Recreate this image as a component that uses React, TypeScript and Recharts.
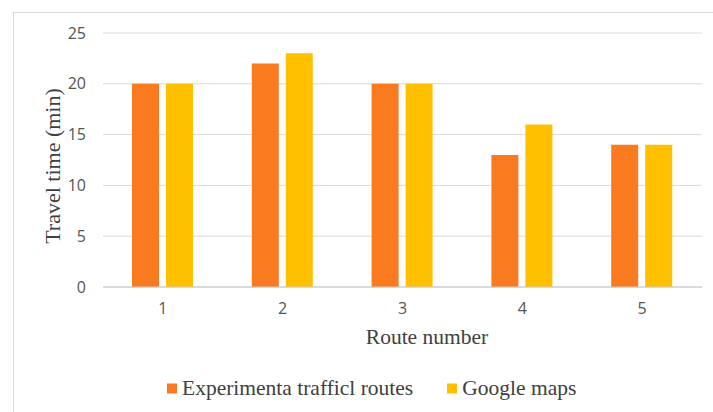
import { BarChart, Bar, XAxis, YAxis, CartesianGrid } from 'recharts';

const routes = ['1', '2', '3', '4', '5'];
const experimentalTimes = [20, 22, 20, 13, 14];
const googleTimes = [20, 23, 20, 16, 14];
const yTicks = [0, 5, 10, 15, 20, 25];

const SERIES = [
  { key: 'experimental', name: 'Experimenta trafficl routes', color: '#F97A1F' },
  { key: 'google', name: 'Google maps', color: '#FFC000' },
];

const data = routes.map((route, i) => ({
  route,
  experimental: experimentalTimes[i],
  google: googleTimes[i],
}));

const serif = '"Liberation Serif", "Times New Roman", serif';
const tickFont = { fill: '#555', fontSize: 16, fontFamily: '"Open Sans", "Liberation Sans", sans-serif' };

export default function App() {
  return (
    <div style={{ position: 'relative', width: 713, height: 412, background: '#fff', overflow: 'hidden' }}>
      <style>{'body { margin: 0; }'}</style>
      {/* frame */}
      <div style={{ position: 'absolute', left: 13, top: 12, width: 720, height: 420, borderTop: '1.5px solid #d9d9d9', borderLeft: '1.5px solid #d9d9d9' }} />

      <BarChart
        width={713}
        height={412}
        data={data}
        margin={{ top: 33, right: 11, bottom: 95, left: 0 }}
        barGap={7}
        barSize={27}
        style={{ position: 'absolute', left: 0, top: 0 }}
      >
        <CartesianGrid vertical={false} stroke="#d9d9d9" />
        <XAxis
          dataKey="route"
          height={30}
          tick={tickFont}
          tickLine={false}
          tickSize={0}
          tickMargin={16}
          axisLine={{ stroke: '#c8c8c8' }}
        />
        <YAxis
          domain={[0, 25]}
          ticks={yTicks}
          width={103}
          tick={tickFont}
          tickLine={false}
          tickSize={0}
          tickMargin={17}
          axisLine={false}
        />
        {SERIES.map(s => (
          <Bar key={s.key} dataKey={s.key} name={s.name} fill={s.color} isAnimationActive={false} />
        ))}
      </BarChart>

      {/* axis titles */}
      <div style={{
        position: 'absolute', left: 53, top: 166, transform: 'translate(-50%, -50%) rotate(-90deg)',
        fontFamily: serif, fontSize: 22, color: '#404040', whiteSpace: 'nowrap',
      }}>Travel time (min)</div>
      <div style={{
        position: 'absolute', left: 427, top: 337, transform: 'translate(-50%, -50%)',
        fontFamily: serif, fontSize: 21.5, color: '#404040', whiteSpace: 'nowrap',
      }}>Route number</div>

      {/* legend */}
      <div style={{
        position: 'absolute', left: 167, top: 388, transform: 'translateY(-50%)',
        display: 'flex', alignItems: 'center', fontFamily: serif, fontSize: 21.5, color: '#404040', whiteSpace: 'nowrap',
      }}>
        {SERIES.map((s, i) => (
          <div key={s.key} style={{ display: 'flex', alignItems: 'center', marginLeft: i ? 34 : 0 }}>
            <span style={{ width: 10, height: 10, background: s.color, display: 'inline-block', marginRight: 5 }} />
            <span>{s.name}</span>
          </div>
        ))}
      </div>
    </div>
  );
}
